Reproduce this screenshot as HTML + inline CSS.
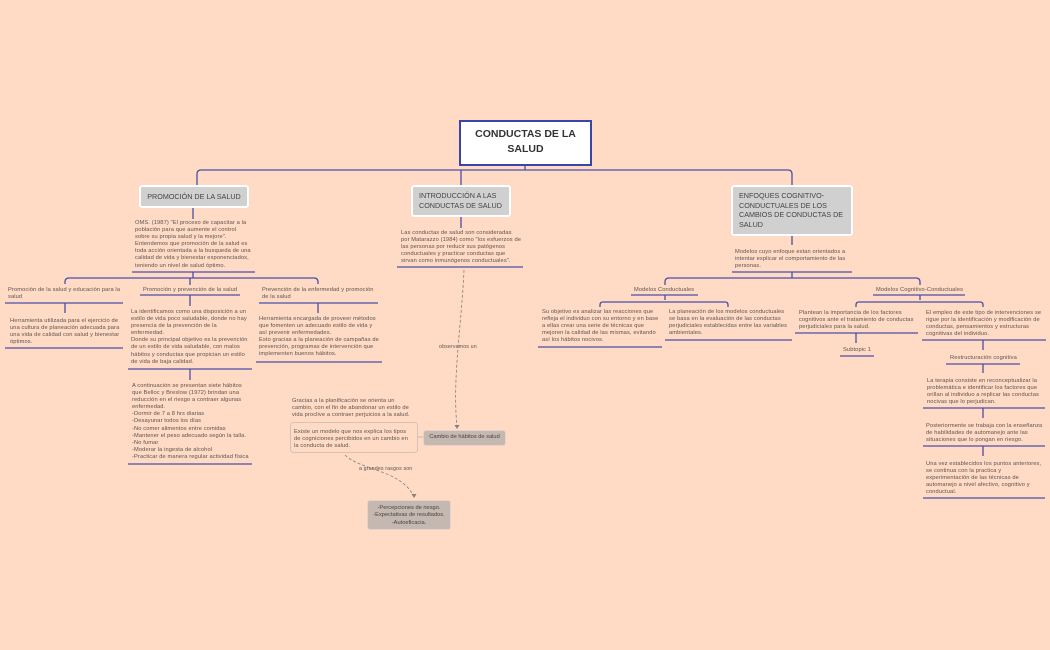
<!DOCTYPE html>
<html><head><meta charset="utf-8"><style>
html,body{margin:0;padding:0}
body{width:1050px;height:650px;background:#ffdac5;position:relative;overflow:hidden;font-family:"Liberation Sans",sans-serif;color:#555}
.t{position:absolute;font-size:5.7px;line-height:7.1px;color:#5a5350;white-space:nowrap;letter-spacing:0.12px}
.b{position:absolute;box-sizing:border-box;background:#d0d0d0;border:2px solid #fff;border-radius:3px;color:#444;font-size:7.2px;line-height:9.6px;padding:4px 6px;white-space:nowrap}
svg{position:absolute;left:0;top:0}
</style></head><body>
<svg width="1050" height="650" fill="none" stroke="#4a4fa6" stroke-width="1.3">
<path d="M525 165V170M197 185V174q0-4 4-4H788q4 0 4 4V185M461 170V185"/>
<path d="M193 207V219M132 272H255M193 272V278M65 284V282q0-4 4-4H314q4 0 4 4V284M190 278V285"/>
<path d="M5 303H123M140 295H240M259 303H378"/>
<path d="M65 303V313M5 348H123M190 295V306M128 369H252M190 369V380M128 464H252M318 303V313M256 362H382"/>
<path d="M461 216V228M397 267H523"/>
<path d="M792 235V245M732 272H852M792 272V278M665 285V282q0-4 4-4H916q4 0 4 4V285"/>
<path d="M631 295H698M665 295V300M600 307V305q0-3 3-3H725q3 0 3 3V307M538 347H662M665 340H792"/>
<path d="M873 295H965M920 295V300M856 307V305q0-3 3-3H980q3 0 3 3V307"/>
<path d="M795 333H918M856 333V343M840 356H874M922 340H1046M983 340V350M946 364H1020M983 364V373M923 408H1045M983 408V418M923 446H1045M983 446V456M923 498H1045"/>
<g stroke="#8a7f78" stroke-width="0.8" stroke-dasharray="3,2">
<path d="M464 270C462 320 452 380 457 426"/>
<path d="M345 455C360 470 400 470 413 495"/>
</g>
<g fill="#8a7f78" stroke="none"><path d="M457 429l-2.5-4h5z"/><path d="M414 498l-2.5-4h5z"/></g>
<path d="M417 437H423" stroke="#c9b8ad" stroke-width="1"/>
<rect x="290.5" y="422.5" width="127" height="30" rx="3" stroke="#d5c3b8" stroke-width="1" fill="none"/>
</svg>
<div style="position:absolute;left:459px;top:120px;width:133px;height:46px;box-sizing:border-box;background:#fff;border:2.5px solid #3b45a3;text-align:center;font-weight:bold;font-size:10.5px;line-height:15px;color:#333;padding-top:5px">CONDUCTAS DE LA<br>SALUD</div>
<div class="b" style="left:139px;top:185px;width:110px;height:23px;text-align:center;padding:5px 2px 0">PROMOCIÓN DE LA SALUD</div>
<div class="b" style="left:411px;top:185px;width:100px;height:32px">INTRODUCCIÓN A LAS<br>CONDUCTAS DE SALUD</div>
<div class="b" style="left:731px;top:185px;width:122px;height:51px">ENFOQUES COGNITIVO-<br>CONDUCTUALES DE LOS<br>CAMBIOS DE CONDUCTAS DE<br>SALUD</div>
<div class="t" style="left:135px;top:220px">OMS. (1987) "El proceso de capacitar a la<br>población para que aumente el control<br>sobre su propia salud y la mejore".<br>Entendemos que promoción de la salud es<br>toda acción orientada a la busqueda de una<br>calidad de vida y bienestar exponenciados,<br>teniendo un nivel de salud óptimo.</div>
<div class="t" style="left:8px;top:287px">Promoción de la salud y educación para la<br>salud</div>
<div class="t" style="left:143px;top:287px">Promoción y prevención de la salud</div>
<div class="t" style="left:262px;top:287px">Prevención de la enfermedad y promoción<br>de la salud</div>
<div class="t" style="left:10px;top:318px">Herramienta utilizada para el ejercicio de<br>una cultura de planeación adecuada para<br>una vida de calidad con salud y bienestar<br>óptimos.</div>
<div class="t" style="left:131px;top:309px">La identificamos como una disposición a un<br>estilo de vida poco saludable, donde no hay<br>presencia de la prevención de la<br>enfermedad.<br>Donde su principal objetivo es la prevención<br>de un estilo de vida saludable, con malos<br>hábitos y conductas que propician un estilo<br>de vida de baja calidad.</div>
<div class="t" style="left:132px;top:383px">A continuación se presentan siete hábitos<br>que Belloc y Breslow (1972) brindan una<br>reducción en el riesgo a contraer algunas<br>enfermedad.<br>-Dormir de 7 a 8 hrs diarias<br>-Desayunar todos los días<br>-No comer alimentos entre comidas<br>-Mantener el peso adecuado según la talla.<br>-No fumar<br>-Moderar la ingesta de alcohol<br>-Practicar de manera regular actividad física</div>
<div class="t" style="left:259px;top:316px">Herramienta encargada de proveer métodos<br>que fomenten un adecuado estilo de vida y<br>así prevenir enfermedades.<br>Esto gracias a la planeación de campañas de<br>prevención, programas de intervención que<br>implementen buenos hábitos.</div>
<div class="t" style="left:401px;top:230px">Las conductas de salud son consideradas<br>por Matarazzo (1984) como "los esfuerzos de<br>las personas por reducir sus patógenos<br>conductuales y practicar conductas que<br>sirvan como inmunógenos conductuales".</div>
<div class="t" style="left:439px;top:344px;font-size:5.3px">observamos un</div>
<div class="t" style="left:292px;top:398px">Gracias a la planificación se orienta un<br>cambio, con el fin de abandonar un estilo de<br>vida proclive a contraer perjuicios a la salud.</div>
<div class="t" style="left:294px;top:429px">Existe un modelo que nos explica los tipos<br>de cogniciones percibidos en un cambio en<br>la conducta de salud.</div>
<div class="b" style="left:423px;top:430px;width:83px;height:16px;background:#c5b8b0;border:1px solid #e6d2c6;font-size:5.7px;line-height:7px;padding:3px 2px;text-align:center">Cambio de hábitos de salud</div>
<div class="t" style="left:359px;top:466px;font-size:5.3px">a grandes rasgos son</div>
<div class="b" style="left:367px;top:500px;width:84px;height:30px;background:#c5b8b0;border:1px solid #e6d2c6;font-size:5.7px;line-height:7.3px;padding:4px 2px;text-align:center">-Percepciones de riesgo.<br>-Expectativas de resultados.<br>-Autoeficacia.</div>
<div class="t" style="left:735px;top:249px">Modelos cuyo enfoque estan orientados a<br>intentar explicar el comportamiento de las<br>personas.</div>
<div class="t" style="left:634px;top:287px">Modelos Conductuales</div>
<div class="t" style="left:542px;top:309px">Su objetivo es analizar las reacciones que<br>refleja el individuo con su entorno y en base<br>a ellas crear una serie de técnicas que<br>mejoren la calidad de las mismas, evitando<br>así los hábitos nocivos.</div>
<div class="t" style="left:669px;top:309px">La planeación de los modelos conductuales<br>se basa en la evaluación de las conductas<br>perjudiciales establecidas entre las variables<br>ambientales.</div>
<div class="t" style="left:876px;top:287px">Modelos Cognitivo-Conductuales</div>
<div class="t" style="left:799px;top:310px">Plantean la importancia de los factores<br>cognitivos ante el tratamiento de conductas<br>perjudiciales para la salud.</div>
<div class="t" style="left:843px;top:347px">Subtopic 1</div>
<div class="t" style="left:926px;top:310px">El empleo de este tipo de intervenciones se<br>rigue por la identificación y modificación de<br>conductas, pensamientos y estructuras<br>cognitivas del individuo.</div>
<div class="t" style="left:950px;top:355px">Restructuración cognitiva</div>
<div class="t" style="left:927px;top:378px">La terapia consiste en reconceptualizar la<br>problemática e identificar los factores que<br>orillan al individuo a replicar las conductas<br>nocivas que lo perjudican.</div>
<div class="t" style="left:926px;top:423px">Posteriormente se trabaja con la enseñanza<br>de habilidades de automanejo ante las<br>situaciones que lo pongan en riesgo.</div>
<div class="t" style="left:926px;top:461px">Una vez establecidos los puntos anteriores,<br>se continua con la practica y<br>experimentación de las técnicas de<br>automanejo a nivel afectivo, cognitivo y<br>conductual.</div>
</body></html>
